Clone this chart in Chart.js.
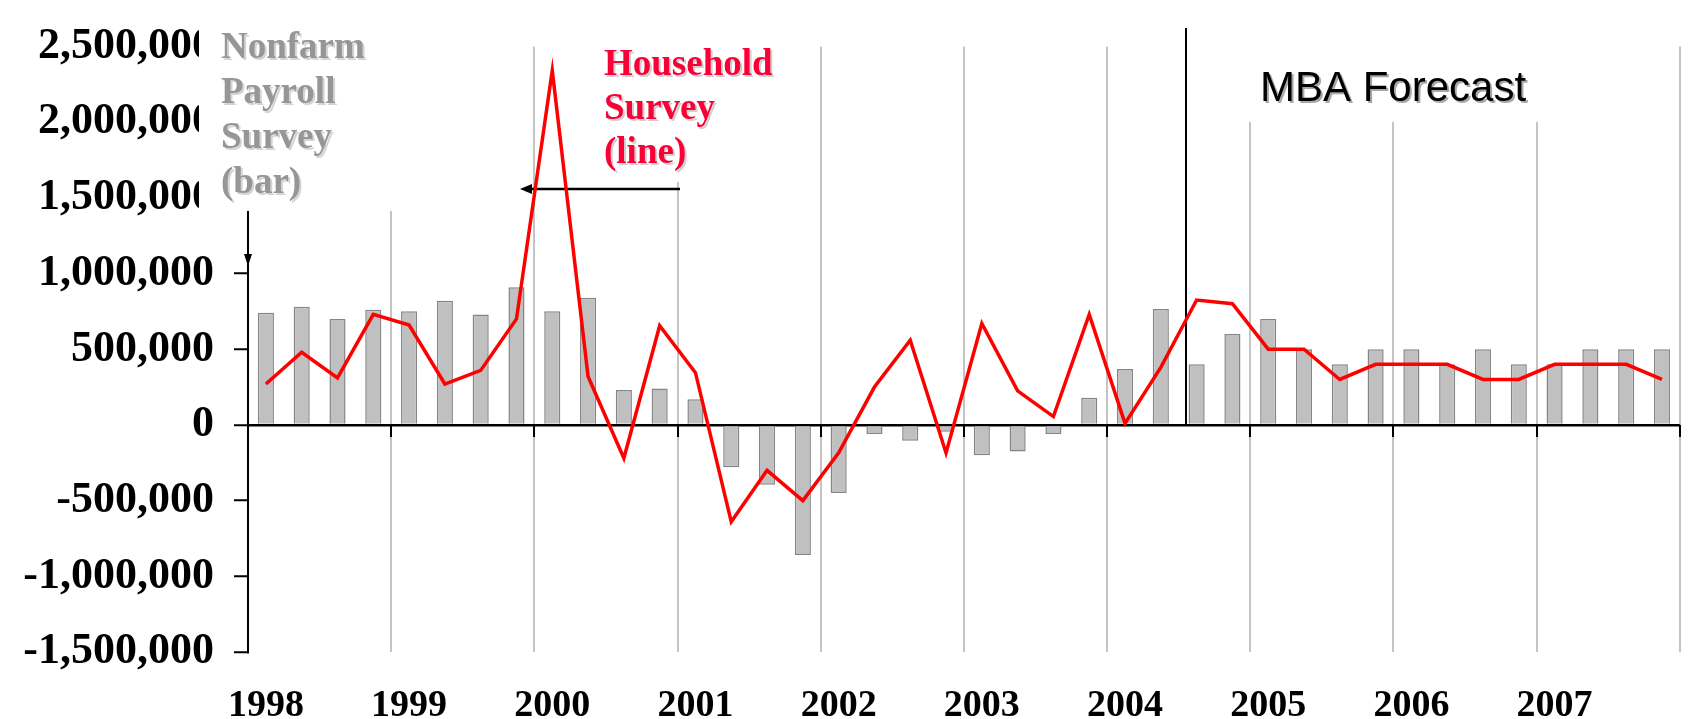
<!DOCTYPE html>
<html>
<head>
<meta charset="utf-8">
<script src="https://cdn.jsdelivr.net/npm/chart.js@4.4.1/dist/chart.umd.min.js"></script>
<style>
  html, body { margin: 0; padding: 0; background: #fff; }
  #wrap { width: 1693px; height: 719px; position: relative; }
</style>
</head>
<body>
<div id="wrap"><canvas id="jobs"></canvas></div>
<script>
const years = ['1998', '1999', '2000', '2001', '2002', '2003', '2004', '2005', '2006', '2007'];
const quarters = ['Q1', 'Q2', 'Q3', 'Q4'];
const quarterLabels = years.flatMap(y => quarters.map(q => y + ' ' + q));

// nonfarm payroll survey, quarterly change (bars)
const payrollBars = [
  740000, 780000, 700000, 760000,
  750000, 820000, 730000, 910000,
  750000, 840000, 230000, 240000,
  170000, -280000, -395000, -860000,
  -450000, -60000, -105000, -45000,
  -200000, -175000, -60000, 180000,
  370000, 765000, 400000, 600000,
  700000, 500000, 400000, 500000,
  500000, 400000, 500000, 400000,
  400000, 500000, 500000, 500000
];

// household survey, quarterly change (line)
const householdLine = [
  270000, 480000, 310000, 730000,
  660000, 270000, 360000, 700000,
  2340000, 320000, -220000, 655000,
  345000, -640000, -300000, -500000,
  -185000, 250000, 560000, -185000,
  670000, 225000, 55000, 730000,
  10000, 380000, 825000, 800000,
  500000, 500000, 300000, 400000,
  400000, 400000, 300000, 300000,
  400000, 400000, 400000, 300000
];

const yMin = -1500000;
const yMax = 2500000;
const yStep = 500000;
const forecastStart = 25.7; // position on the quarter axis where the MBA forecast begins

const serif = 'Liberation Serif, Times New Roman, serif';

function shadowText(ctx, text, x, y, color, shadow, off) {
  ctx.fillStyle = shadow;
  ctx.fillText(text, x + off, y + off);
  ctx.fillStyle = color;
  ctx.fillText(text, x, y);
}

const notes = {
  id: 'notes',
  beforeDatasetsDraw(chart) {
    const { ctx, scales: { x, y } } = chart;
    ctx.save();

    // text boxes hide what sits under them
    ctx.fillStyle = '#fff';
    ctx.fillRect(199, 0, 197, 211);
    ctx.fillRect(600, 30, 190, 152);
    ctx.fillRect(1240, 44, 320, 78);

    // year ticks on the zero line
    const zero = y.getPixelForValue(0);
    ctx.strokeStyle = '#000';
    ctx.lineWidth = 2;
    for (let i = 0; i <= quarterLabels.length; i += 4) {
      const px = Math.round(x.getPixelForValue(i - 0.5));
      ctx.beginPath();
      ctx.moveTo(px, zero);
      ctx.lineTo(px, zero + 12);
      ctx.stroke();
    }

    // forecast divider
    const fx = Math.round(x.getPixelForValue(forecastStart));
    ctx.beginPath();
    ctx.moveTo(fx, 28);
    ctx.lineTo(fx, zero);
    ctx.stroke();

    // arrow down the left axis
    const ax = chart.chartArea.left;
    ctx.fillStyle = '#000';
    ctx.beginPath();
    ctx.moveTo(ax - 4, 254);
    ctx.lineTo(ax + 4, 254);
    ctx.lineTo(ax, 266);
    ctx.closePath();
    ctx.fill();

    // arrow pointing back from household label
    ctx.lineWidth = 2.5;
    ctx.beginPath();
    ctx.moveTo(680, 189);
    ctx.lineTo(530, 189);
    ctx.stroke();
    ctx.beginPath();
    ctx.moveTo(520, 189);
    ctx.lineTo(532, 184);
    ctx.lineTo(532, 194);
    ctx.closePath();
    ctx.fill();

    ctx.textAlign = 'left';
    ctx.textBaseline = 'alphabetic';

    ctx.font = 'bold 37px ' + serif;
    ['Nonfarm', 'Payroll', 'Survey', '(bar)'].forEach((t, i) => {
      shadowText(ctx, t, 221, 58 + i * 45, '#969696', '#d4d4d4', 2);
    });

    ['Household', 'Survey', '(line)'].forEach((t, i) => {
      shadowText(ctx, t, 604, 75 + i * 44, '#fa0036', '#cfcfcf', 2);
    });

    ctx.font = '42px Liberation Sans, Arial, sans-serif';
    shadowText(ctx, 'MBA Forecast', 1260, 101, '#000', '#a8a8a8', 2);

    ctx.restore();
  }
};

new Chart(document.getElementById('jobs'), {
  type: 'bar',
  data: {
    labels: quarterLabels,
    datasets: [
      {
        type: 'line',
        label: 'Household Survey',
        data: householdLine,
        borderColor: '#ff0000',
        borderWidth: 3.5,
        pointRadius: 0,
        tension: 0,
        order: 0
      },
      {
        label: 'Nonfarm Payroll Survey',
        data: payrollBars,
        backgroundColor: '#c0c0c0',
        borderColor: '#858585',
        borderWidth: 1.5,
        categoryPercentage: 1,
        barPercentage: 0.45,
        order: 1
      }
    ]
  },
  options: {
    responsive: true,
    maintainAspectRatio: false,
    animation: false,
    layout: { padding: { top: 26, right: 2, left: 0, bottom: 0 } },
    plugins: {
      legend: { display: false },
      tooltip: { enabled: false }
    },
    scales: {
      x: {
        grid: {
          offset: true,
          drawTicks: false,
          color: ctx => (ctx.index === undefined || ctx.index % 4 === 0) ? '#c4c4c4' : 'transparent',
          lineWidth: 2
        },
        border: { display: false },
        ticks: {
          autoSkip: false,
          maxRotation: 0,
          minRotation: 0,
          padding: 31,
          color: '#000',
          font: { family: serif, size: 38, weight: 'bold' },
          callback: (v, i) => i % 4 === 0 ? years[i / 4] : ''
        },
        afterFit: scale => { scale.height = 67; }
      },
      y: {
        min: yMin,
        max: yMax,
        grid: {
          color: ctx => ctx.tick && ctx.tick.value === 0 ? '#000' : 'transparent',
          lineWidth: 2.5,
          drawTicks: true,
          tickLength: 14,
          tickColor: '#000',
          tickWidth: 2
        },
        border: { display: true, color: '#000', width: 2 },
        ticks: {
          stepSize: yStep,
          autoSkip: false,
          padding: 20,
          color: '#000',
          font: { family: serif, size: 44, weight: 'bold' },
          callback: v => v.toLocaleString('en-US')
        },
        afterFit: scale => { scale.width = 248; }
      }
    }
  },
  plugins: [notes]
});
</script>
</body>
</html>
